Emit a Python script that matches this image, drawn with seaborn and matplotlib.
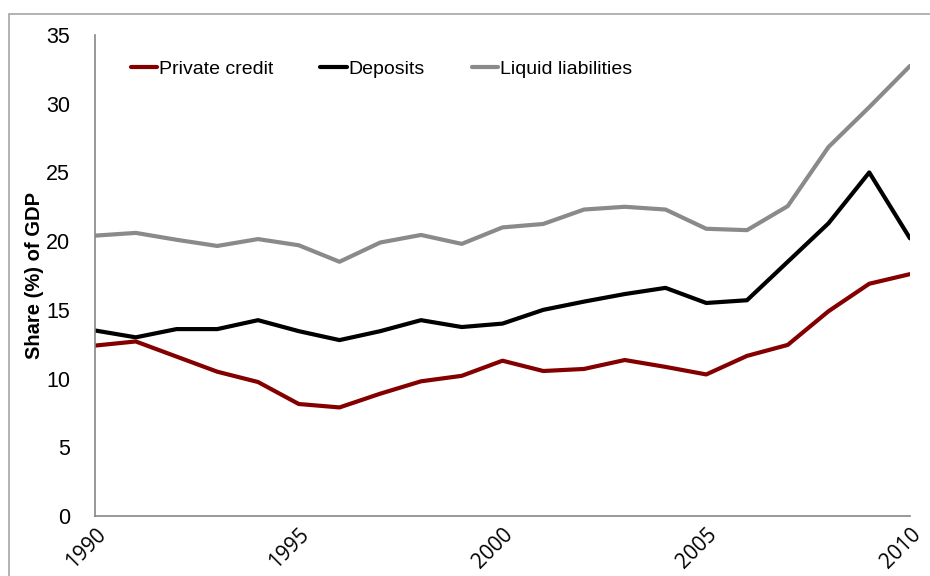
import matplotlib
matplotlib.use("Agg")
import matplotlib.pyplot as plt
from matplotlib.patches import Rectangle
from matplotlib import font_manager
import seaborn as sns
import pandas as pd

# Data
years = list(range(1990, 2011))
private_credit = [12.4, 12.7, 11.6, 10.5, 9.75, 8.15, 7.9, 8.9, 9.8, 10.2, 11.3,
                  10.55, 10.7, 11.35, 10.85, 10.3, 11.65, 12.45, 14.9, 16.9, 17.6]
deposits = [13.5, 13.0, 13.6, 13.6, 14.25, 13.45, 12.8, 13.45, 14.25, 13.75, 14.0,
            15.0, 15.6, 16.15, 16.6, 15.5, 15.7, 18.5, 21.3, 25.0, 20.2]
liquid_liabilities = [20.4, 20.6, 20.1, 19.65, 20.15, 19.7, 18.5, 19.9, 20.45, 19.8, 21.0,
                      21.25, 22.3, 22.5, 22.3, 20.9, 20.8, 22.55, 26.85, 29.75, 32.75]
series_names = ["Private credit", "Deposits", "Liquid liabilities"]
colors = ["#840000", "#000000", "#8a8a8a"]
x_ticks = [1990, 1995, 2000, 2005, 2010]
y_ticks = [0, 5, 10, 15, 20, 25, 30, 35]

df = pd.DataFrame({"year": years * 3,
                   "value": private_credit + deposits + liquid_liabilities,
                   "series": [s for s in series_names for _ in years]})

sns.set_style("white")
installed = {f.name for f in font_manager.fontManager.ttflist}
narrow = [f for f in ["Liberation Sans Narrow", "Liberation Sans"] if f in installed] + ["DejaVu Sans"]
plt.rcParams["font.family"] = narrow
for key in ["text.color", "axes.labelcolor", "xtick.color", "ytick.color"]:
    plt.rcParams[key] = "black"

fig = plt.figure(figsize=(9.3, 5.76), dpi=100)
ax = fig.add_axes([95 / 930, 60 / 576, 815 / 930, 481 / 576])

sns.lineplot(data=df, x="year", y="value", hue="series", hue_order=series_names,
             palette=colors, linewidth=3, ax=ax, solid_capstyle="round",
             solid_joinstyle="round")

ax.set_xlim(1990, 2010)
ax.set_ylim(0, 35)
ax.set_xticks(x_ticks)
ax.set_xticklabels([str(t) for t in x_ticks], rotation=45, ha="right",
                   rotation_mode="anchor", fontsize=15,
                   family=["Open Sans", "DejaVu Sans"])
ax.set_yticks(y_ticks)
ax.set_yticklabels([str(t) for t in y_ticks], fontsize=15.5)
ax.tick_params(axis="both", length=0)
ax.tick_params(axis="y", pad=18)
ax.tick_params(axis="x", pad=6)
ax.set_xlabel("")
ax.set_ylabel("Share (%) of GDP", fontsize=14.5, fontweight="bold", labelpad=1)

for side in ["top", "right"]:
    ax.spines[side].set_visible(False)
for side in ["left", "bottom"]:
    ax.spines[side].set_color("#868686")
    ax.spines[side].set_linewidth(1.2)

leg = ax.legend(loc="upper left", bbox_to_anchor=(0.023, 0.983), ncol=3, frameon=False,
                fontsize=14, handlelength=1.35, handletextpad=0.1, columnspacing=2.4)
for h in leg.get_lines():
    h.set_linewidth(3)

# outer chart border
fig.patches.append(Rectangle((9 / 930, -0.1), 2, (562 / 576) + 0.1,
                             transform=fig.transFigure, fill=False,
                             edgecolor="#a6a6a6", linewidth=1.2, clip_on=False))

plt.savefig("out.png", dpi=100)
